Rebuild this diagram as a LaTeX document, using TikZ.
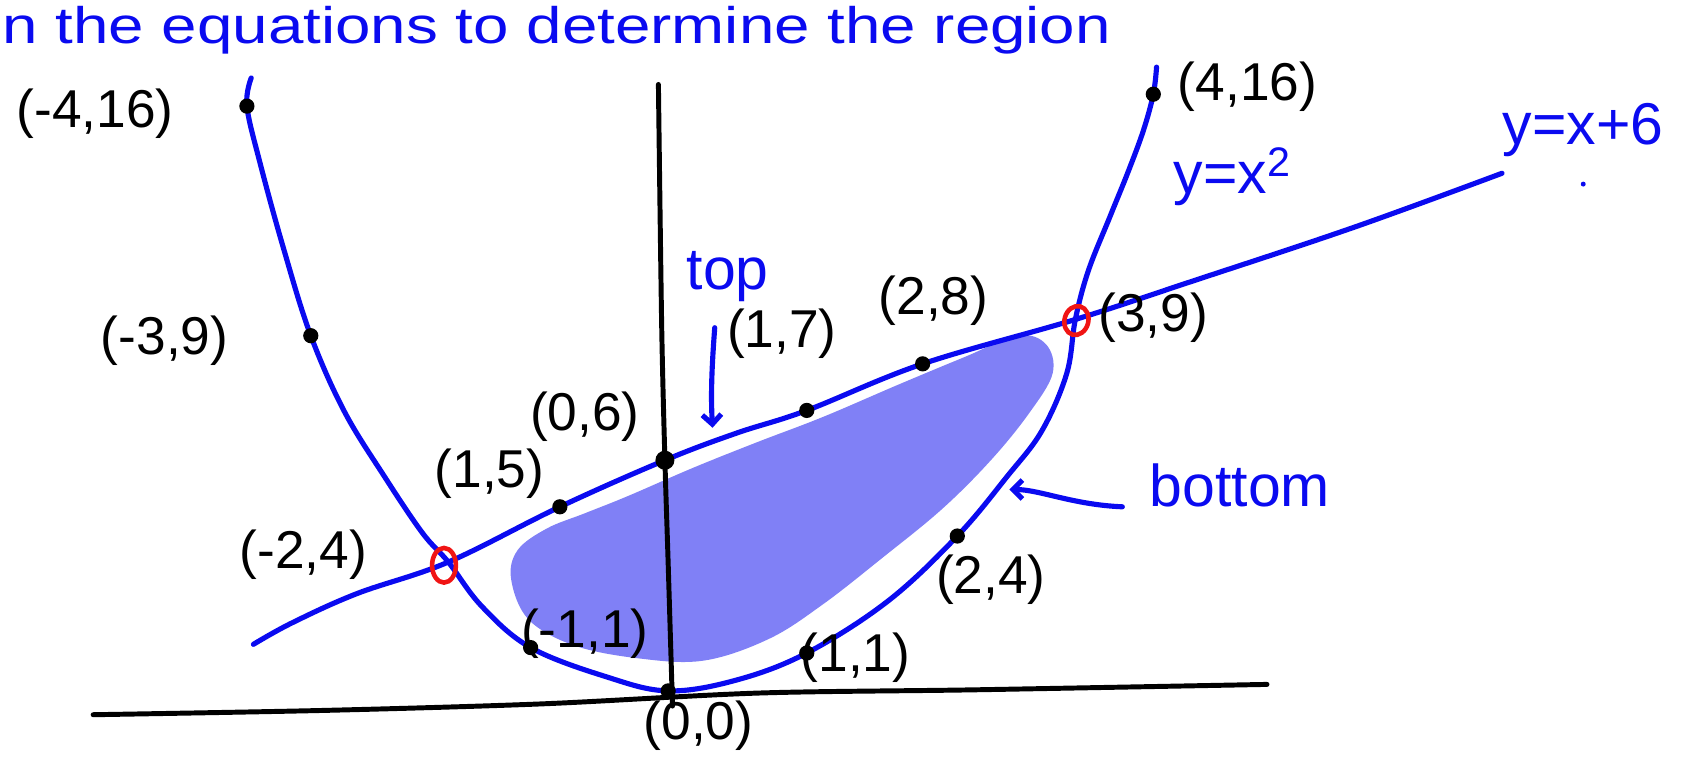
\documentclass[tikz,border=0pt]{standalone}
\usepackage{fontspec}
\setmainfont{Liberation Sans}
\usetikzlibrary{arrows.meta,shapes.geometric}
\definecolor{penblue}{RGB}{10,10,240}
\definecolor{shadeblue}{RGB}{128,128,246}
\definecolor{penred}{RGB}{240,20,20}
\begin{document}
\begin{tikzpicture}[x=0.02cm,y=-0.02cm,
  lbl/.style={font=\fontsize{28}{30}\selectfont, text=black, inner sep=0pt},
  bl/.style={font=\fontsize{31}{33}\selectfont, text=penblue, inner sep=0pt},
  curve/.style={penblue, line width=2.7pt, line join=round, line cap=round},
  ax/.style={black, line width=2.6pt, line cap=round, line join=round},
  dot/.style={circle, fill=black, inner sep=0pt, minimum size=8pt},
  ring/.style={ellipse, draw=penred, line width=2.4pt, inner sep=0pt},
  pointer/.style={penblue, line width=2.7pt, line cap=round, -{Straight Barb[length=5pt,width=10pt]}}]
\useasboundingbox (0,0) rectangle (1568,706);
% shaded region
\fill[shadeblue] plot[smooth cycle, tension=0.6] coordinates {
 (472,535) (478,508) (505,488) (540,474) (580,458) (640,432) (700,408)
 (760,385) (830,355) (890,330) (940,310) (966,318) (972,345) (950,382)
 (915,425) (870,470) (815,515) (760,558) (710,590) (650,610) (590,608)
 (530,596) (488,572)};
% axes
\coordinate (xl) at (86,660);
\coordinate (xr) at (1170,632);
\coordinate (yt) at (608,78);
\coordinate (yb) at (621,652);
\draw[ax] plot[smooth] coordinates {(xl) (300,656) (500,650) (700,640) (900,637) (xr)};
\draw[ax] plot[smooth] coordinates {(yt) (611,300) (614,425) (617,520) (yb)};
% parabola y = x^2
\draw[curve] plot[smooth, tension=0.6] coordinates {
 (232,72) (228,98) (240,150) (262,230) (287,310) (318,380) (355,440)
 (390,492) (414,519) (445,560) (490,598) (560,625) (617,638) (680,628)
 (745,603) (820,555) (884,495) (930,440) (962,398) (985,345) (993,295)
 (1005,250) (1025,200) (1042,158) (1056,120) (1065,87) (1068,62)};
% line y = x + 6
\draw[curve] plot[smooth, tension=0.6] coordinates {
 (234,595) (270,575) (330,548) (414,519) (517,468) (614,425) (680,400)
 (745,379) (852,336) (993,295) (1100,260) (1250,210) (1387,160)};
% dots
\node[dot] (dm4) at (228,98) {};
\node[dot] (dm3) at (287,310) {};
\node[dot] (dm1) at (490,598) {};
\node[dot] (d0) at (617,638) {};
\node[dot] (d1) at (745,603) {};
\node[dot] (d2) at (884,495) {};
\node[dot] (d4) at (1065,87) {};
\node[dot] (dl1) at (517,468) {};
\node[dot, minimum size=10pt] (dl0) at (614,425) {};
\node[dot] (dl2) at (745,379) {};
\node[dot] (dl3) at (852,336) {};
% intersection rings
\node[ring, minimum width=0.44cm, minimum height=0.64cm] (rA) at (410,522) {};
\node[ring, minimum width=0.44cm, minimum height=0.54cm, rotate=-15] (rB) at (994,296) {};
% black labels
\node[lbl] (lm4) at (88,105) {(-4,16)};
\node[lbl] (lm3) at (152,315) {(-3,9)};
\node[lbl] (lm2) at (280,512) {(-2,4)};
\node[lbl] (lm15) at (452,437) {(1,5)};
\node[lbl] (l06) at (540,385) {(0,6)};
\node[lbl] (l17) at (722,308) {(1,7)};
\node[lbl] (l28) at (862,278) {(2,8)};
\node[lbl] (l39) at (1065,293) {(3,9)};
\node[lbl] (l416) at (1152,80) {(4,16)};
\node[lbl] (l24) at (915,535) {(2,4)};
\node[lbl] (l11) at (790,607) {(1,1)};
\node[lbl] (lm11) at (540,585) {(-1,1)};
\node[lbl] (l00) at (645,670) {(0,0)};
% blue labels
\node[bl, anchor=base west, transform shape, xscale=1.24, font=\fontsize{27}{29}\selectfont] (title) at (2,40) {n the equations to determine the region};
\node[bl] (ltop) at (672,255) {top};
\node[bl] (lbot) at (1145,448) {bottom};
\node[bl] (lpar) at (1138,163) {y=x\textsuperscript{2}};
\node[bl] (lline) at (1462,120) {y=x+6};
\fill[penblue] (1462,170) circle (1.3pt);
% pointers
\coordinate (ptop) at (658,395);
\coordinate (pbot) at (932,452);
\draw[pointer] (ltop.south) ++(-12,24) .. controls (658,330) and (656,360) .. (ptop);
\draw[pointer] (lbot.west) ++(-25,20) .. controls (990,466) and (960,452) .. (pbot);
\end{tikzpicture}
\end{document}
